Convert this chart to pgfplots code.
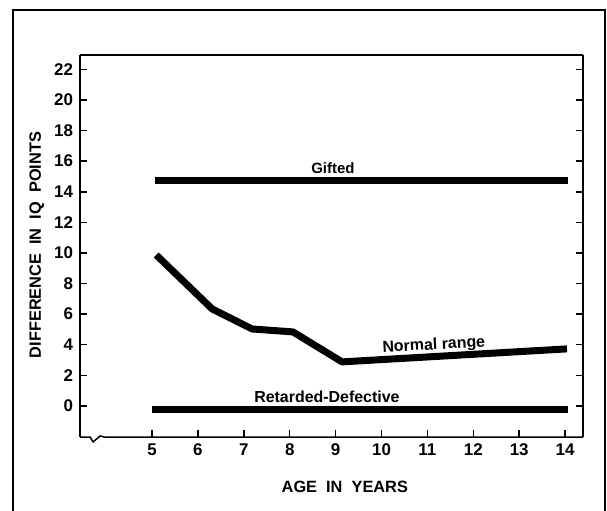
\documentclass[border=0pt]{standalone}
\usepackage{fontspec}
\setmainfont{Liberation Sans}
\usepackage{pgfplots}
\pgfplotsset{compat=1.18}
\begin{document}
\begin{tikzpicture}
\useasboundingbox (-40bp,-37bp) rectangle (263.5bp,218.5bp);
\draw[line width=0.8bp] (-33.5bp,-45bp) -- (-33.5bp,213.5bp) -- (262.5bp,213.5bp) -- (262.5bp,-45bp);
\begin{axis}[at={(0,0)}, anchor=south west, scale only axis,
  width=251.5bp, height=191bp,
  xmin=3.43, xmax=14.39, ymin=-2.03, ymax=22.94,
  xtick={5,6,...,14}, ytick={0,2,...,22},
  tick align=inside, xtick pos=left, ytick pos=both, yticklabel pos=left,
  major tick length=3.5bp,
  separate axis lines,
  x axis line style={draw=none},
  y axis line style={line width=0.75bp},
  tick style={line width=0.75bp, black},
  ticklabel style={font=\fontsize{8.5}{10}\selectfont\bfseries},
  /pgf/number format/assume math mode=true,
  clip=false,
]
\addplot[black, no markers, line width=3.5bp, line cap=butt, line join=round] coordinates {(5.07,14.75) (14.06,14.75)};
\addplot[black, no markers, line width=3.5bp, line cap=butt, line join=round] coordinates {(5.09,9.87) (6.31,6.34) (7.18,5.03) (8.07,4.84) (9.14,2.88) (14.04,3.73)};
\addplot[black, no markers, line width=3.5bp, line cap=butt, line join=round] coordinates {(5.0,-0.2) (14.06,-0.2)};
\draw[line width=0.75bp] (rel axis cs:0,1) -- (rel axis cs:1,1);
\draw[line width=0.75bp] (rel axis cs:0,0) -- (axis cs:3.65,-2.03) -- (axis cs:3.715,-2.35) -- (axis cs:3.87,-1.96) -- (axis cs:3.955,-2.03) -- (rel axis cs:1,0);
\node[font=\fontsize{7.5}{9}\selectfont\bfseries] at (axis cs:8.94,15.55) {Gifted};
\node[font=\fontsize{8}{9}\selectfont\bfseries, rotate=3] at (axis cs:11.14,3.95) {Normal range};
\node[font=\fontsize{8}{9}\selectfont\bfseries] at (axis cs:8.81,0.6) {Retarded-Defective};
\node[font=\fontsize{8.2}{9}\selectfont\bfseries] at (axis cs:9.2,-5.29) {AGE\ \ IN\ \ YEARS};
\node[font=\fontsize{8.2}{9}\selectfont\bfseries, rotate=90] at (axis cs:2.49,10.52) {DIFFERENCE\ \ IN\ \ IQ\ \ POINTS};
\end{axis}
\end{tikzpicture}
\end{document}
